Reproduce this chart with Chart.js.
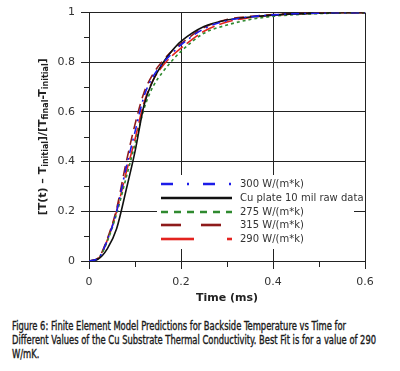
<!DOCTYPE html>
<html>
<head>
<meta charset="utf-8">
<script src="https://cdn.jsdelivr.net/npm/chart.js@4.4.1/dist/chart.umd.min.js"></script>
<style>
  html, body { margin: 0; padding: 0; background: #fff; }
  #wrap { position: relative; width: 400px; height: 305px; }
  .caption {
    margin: 14px 0 0 12px;
    font-family: "DejaVu Sans", sans-serif;
    font-stretch: condensed;
    font-size: 12px;
    line-height: 14px;
    color: #1a1a1a;
    -webkit-text-stroke: 0.35px #1a1a1a;
  }
  .caption div { white-space: nowrap; transform: scaleX(0.775); transform-origin: left; }
</style>
</head>
<body>
<div id="wrap"><canvas id="tChart" width="400" height="305"></canvas></div>
<div class="caption">
  <div>Figure 6: Finite Element Model Predictions for Backside Temperature vs Time for</div>
  <div>Different Values of the Cu Substrate Thermal Conductivity. Best Fit is for a value of 290</div>
  <div>W/mK.</div>
</div>
<script>
// time (ms)
const times = [0, 0.02, 0.04, 0.06, 0.08, 0.1, 0.12, 0.14, 0.16, 0.18, 0.2, 0.25, 0.3, 0.35, 0.4, 0.45, 0.5, 0.55, 0.6];

// normalised backside temperature
const k300 = [0, 0.011, 0.085, 0.2, 0.37, 0.52, 0.665, 0.745, 0.795, 0.835, 0.87, 0.935, 0.968, 0.983, 0.991, 0.996, 0.998, 1, 1];
const rawData = [0, 0.008, 0.05, 0.13, 0.28, 0.44, 0.63, 0.73, 0.795, 0.845, 0.884, 0.944, 0.97, 0.982, 0.99, 0.995, 0.998, 1, 1];
const k275 = [0, 0.009, 0.08, 0.19, 0.33, 0.47, 0.615, 0.705, 0.76, 0.805, 0.844, 0.917, 0.95, 0.972, 0.985, 0.992, 0.996, 0.999, 1];
const k315 = [0, 0.012, 0.09, 0.21, 0.39, 0.55, 0.68, 0.755, 0.805, 0.845, 0.875, 0.94, 0.972, 0.985, 0.992, 0.996, 0.998, 1, 1];
const k290 = [0, 0.01, 0.085, 0.2, 0.35, 0.49, 0.64, 0.73, 0.785, 0.825, 0.857, 0.925, 0.962, 0.98, 0.99, 0.995, 0.998, 1, 1];

const seriesNames = ['300 W/(m*k)', 'Cu plate 10 mil raw data', '275 W/(m*k)', '315 W/(m*k)', '290 W/(m*k)'];
const xTicks = [0, 0.2, 0.4, 0.6];
const yTicks = [0, 0.2, 0.4, 0.6, 0.8, 1];

function pts(vals) {
    return vals.map((v, i) => ({ x: times[i], y: v }));
}

// legend box inside the plot, minor ticks, y title with subscripts
const extras = {
    id: 'extras',
    afterDraw(chart) {
        const c = chart.ctx;
        const xs = chart.scales.x, ys = chart.scales.y;
        const area = chart.chartArea;
        c.save();
        // minor ticks
        c.strokeStyle = '#222';
        c.lineWidth = 1;
        [0.1, 0.3, 0.5].forEach(v => {
            const px = Math.round(xs.getPixelForValue(v)) + 0.5;
            c.beginPath(); c.moveTo(px, area.bottom); c.lineTo(px, area.bottom + 6); c.stroke();
        });
        [0.1, 0.3, 0.5, 0.7, 0.9].forEach(v => {
            const py = Math.round(ys.getPixelForValue(v)) + 0.5;
            c.beginPath(); c.moveTo(area.left - 5, py); c.lineTo(area.left, py); c.stroke();
        });

        // legend
        const lx = 161, ly = 184;
        c.fillStyle = '#fff';
        c.fillRect(157, 175, 197, 74);
        c.font = '10px "DejaVu Sans", sans-serif';
        c.textBaseline = 'middle';
        chart.data.datasets.forEach((ds, i) => {
            const y = Math.round(ly + i * 13.8);
            c.strokeStyle = ds.borderColor;
            c.lineWidth = 2.6;
            c.setLineDash(ds.legendDash);
            c.beginPath(); c.moveTo(lx, y); c.lineTo(lx + 71, y); c.stroke();
            c.setLineDash([]);
            c.fillStyle = '#333';
            c.fillText(ds.label, lx + 79, y);
        });

        // y axis title
        c.translate(43, (area.top + area.bottom) / 2);
        c.rotate(-Math.PI / 2);
        const parts = [['[T(t) \u2013 T', 0], ['initial', 1], [']/[T', 0], ['final', 1], ['-T', 0], ['initial', 1], [']', 0]];
        const big = 'bold 11px "DejaVu Sans", sans-serif', small = 'bold 8px "DejaVu Sans", sans-serif';
        let w = 0;
        parts.forEach(p => { c.font = p[1] ? small : big; w += c.measureText(p[0]).width; });
        let x = -w / 2;
        c.fillStyle = '#222';
        c.textBaseline = 'middle';
        parts.forEach(p => {
            c.font = p[1] ? small : big;
            c.fillText(p[0], x, p[1] ? 3 : 0);
            x += c.measureText(p[0]).width;
        });
        c.restore();
    }
};

const ctx = document.getElementById('tChart').getContext('2d');
const tChart = new Chart(ctx, {
    type: 'line',
    data: {
        datasets: [
            { label: seriesNames[0], data: pts(k300), borderColor: '#1c1ce8', borderDash: [8, 5, 2, 5], legendDash: [12, 14, 2, 14] },
            { label: seriesNames[1], data: pts(rawData), borderColor: '#111111', borderDash: [], legendDash: [] },
            { label: seriesNames[2], data: pts(k275), borderColor: '#2f8a2f', borderDash: [3, 3], legendDash: [7, 6] },
            { label: seriesNames[3], data: pts(k315), borderColor: '#8e1b1b', borderDash: [10, 6], legendDash: [20, 20] },
            { label: seriesNames[4], data: pts(k290), borderColor: '#e3231f', borderDash: [14, 5], legendDash: [33, 33] }
        ].map(d => Object.assign(d, { borderWidth: 1.6, pointRadius: 0, cubicInterpolationMode: 'monotone', fill: false }))
    },
    options: {
        responsive: false,
        animation: false,
        layout: { padding: { top: 11, right: 35, left: 0, bottom: 0 } },
        plugins: { legend: { display: false }, tooltip: { enabled: false } },
        scales: {
            x: {
                type: 'linear', min: 0, max: 0.6,
                afterBuildTicks: s => { s.ticks = xTicks.map(v => ({ value: v })); },
                ticks: { color: '#333', font: { size: 11, family: '"DejaVu Sans", sans-serif' }, padding: 7, callback: v => String(v) },
                grid: { color: '#222', tickColor: '#222', tickLength: 8, drawOnChartArea: true },
                border: { color: '#222' },
                title: { display: true, text: 'Time (ms)', color: '#222', font: { size: 11, weight: 'bold', family: '"DejaVu Sans", sans-serif' }, padding: { top: 1, bottom: 0 } },
                afterFit: s => { s.height = 44; }
            },
            y: {
                min: 0, max: 1,
                afterBuildTicks: s => { s.ticks = yTicks.map(v => ({ value: v })); },
                ticks: { color: '#333', font: { size: 11, family: '"DejaVu Sans", sans-serif' }, padding: 6, callback: v => String(v) },
                grid: { color: '#222', tickColor: '#222', tickLength: 8 },
                border: { color: '#222' },
                afterFit: s => { s.width = 89; }
            }
        }
    },
    plugins: [extras]
});
</script>
</body>
</html>
